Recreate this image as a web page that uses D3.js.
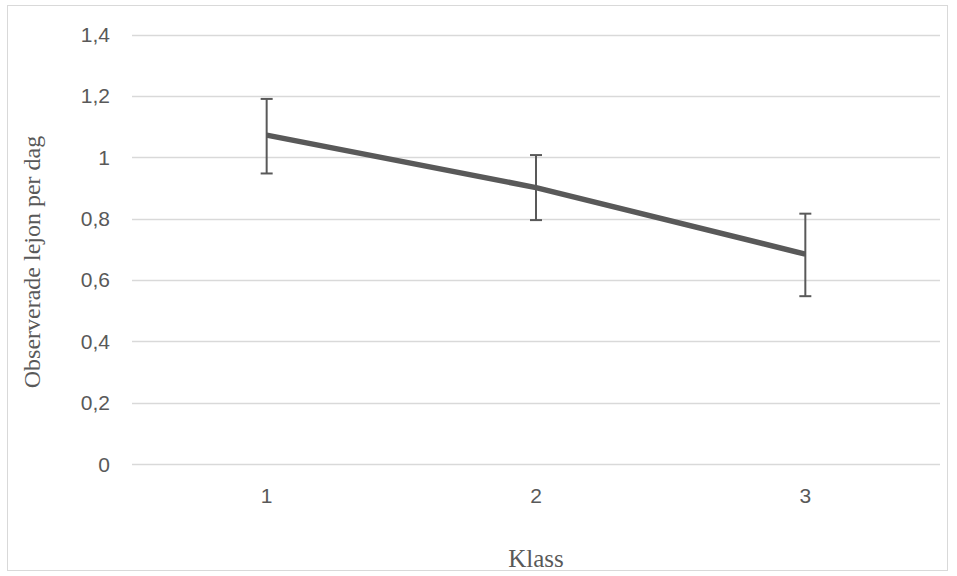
<!DOCTYPE html>
<html>
<head>
<meta charset="utf-8">
<script src="https://cdn.jsdelivr.net/npm/d3@7"></script>
<style>
  body { margin: 0; background: #fff; }
</style>
</head>
<body>
<svg id="chart" width="957" height="576"></svg>
<script>
// data
const klass = ['1', '2', '3'];
const lejon = [1.072, 0.901, 0.684];
const errUp = [0.118, 0.106, 0.132];
const errDown = [0.125, 0.106, 0.137];
const yTicks = [0, 0.2, 0.4, 0.6, 0.8, 1, 1.2, 1.4];

const rows = klass.map((k, i) => ({ k: k, v: lejon[i], up: errUp[i], down: errDown[i] }));

const svg = d3.select('#chart');

// outer frame
svg.append('rect')
  .attr('x', 7.5).attr('y', 5.5)
  .attr('width', 940).attr('height', 565)
  .attr('fill', '#fff')
  .attr('stroke', '#d9d9d9')
  .attr('stroke-width', 1);

const xScale = d3.scaleBand()
  .domain(klass)
  .range([132, 940])
  .padding(0);
const yScale = d3.scaleLinear().domain([0, 1.4]).range([464, 34.5]);

const fmt = d => String(d).replace('.', ',');

// gridlines
svg.append('g')
  .selectAll('line')
  .data(yTicks)
  .enter()
  .append('line')
  .attr('x1', 132).attr('x2', 940)
  .attr('y1', d => Math.round(yScale(d)) + 0.5)
  .attr('y2', d => Math.round(yScale(d)) + 0.5)
  .attr('stroke', '#d9d9d9')
  .attr('stroke-width', 1.3);

// y tick labels
svg.append('g')
  .selectAll('text')
  .data(yTicks)
  .enter()
  .append('text')
  .attr('x', 110)
  .attr('y', d => yScale(d) + 7.5)
  .attr('text-anchor', 'end')
  .style('font-family', '"Liberation Sans", Arial, sans-serif')
  .style('font-size', '21px')
  .attr('fill', '#595959')
  .text(fmt);

// x tick labels
svg.append('g')
  .selectAll('text')
  .data(klass)
  .enter()
  .append('text')
  .attr('x', d => xScale(d) + xScale.bandwidth() / 2)
  .attr('y', 503)
  .attr('text-anchor', 'middle')
  .style('font-family', '"Liberation Sans", Arial, sans-serif')
  .style('font-size', '21px')
  .attr('fill', '#595959')
  .text(d => d);

const cx = d => xScale(d.k) + xScale.bandwidth() / 2;

// the line
const line = d3.line()
  .x(cx)
  .y(d => yScale(d.v));

svg.append('path')
  .datum(rows)
  .attr('d', line)
  .attr('fill', 'none')
  .attr('stroke', '#595959')
  .attr('stroke-width', 5.5)
  .attr('stroke-linejoin', 'round');

// error bars
const errs = svg.append('g')
  .selectAll('g')
  .data(rows)
  .enter()
  .append('g')
  .attr('stroke', '#595959')
  .attr('stroke-width', 2);

errs.append('line')
  .attr('x1', cx).attr('x2', cx)
  .attr('y1', d => yScale(d.v + d.up))
  .attr('y2', d => yScale(d.v - d.down));
errs.append('line')
  .attr('x1', d => cx(d) - 6).attr('x2', d => cx(d) + 6)
  .attr('y1', d => yScale(d.v + d.up))
  .attr('y2', d => yScale(d.v + d.up));
errs.append('line')
  .attr('x1', d => cx(d) - 6).attr('x2', d => cx(d) + 6)
  .attr('y1', d => yScale(d.v - d.down))
  .attr('y2', d => yScale(d.v - d.down));

// axis titles
svg.append('text')
  .attr('x', 536)
  .attr('y', 567)
  .attr('text-anchor', 'middle')
  .style('font-family', '"Liberation Serif", "Times New Roman", serif')
  .style('font-size', '25px')
  .attr('fill', '#595959')
  .text('Klass');

svg.append('text')
  .attr('transform', 'translate(40,262) rotate(-90)')
  .attr('text-anchor', 'middle')
  .style('font-family', '"Liberation Serif", "Times New Roman", serif')
  .style('font-size', '24px')
  .attr('fill', '#595959')
  .text('Observerade lejon per dag');
</script>
</body>
</html>
